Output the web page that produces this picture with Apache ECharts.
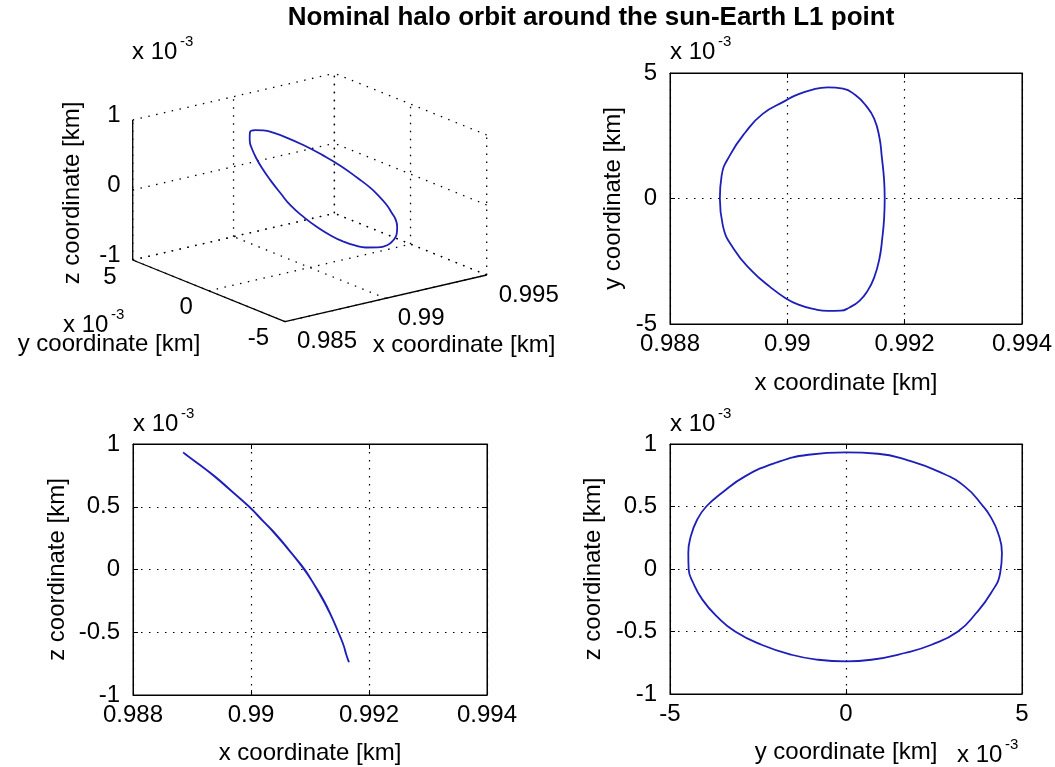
<!DOCTYPE html>
<html><head><meta charset="utf-8">
<script src="https://cdn.jsdelivr.net/npm/echarts@6/dist/echarts.min.js"></script>
<style>html,body{margin:0;padding:0;background:#fff}#c{width:1055px;height:767px}</style>
</head><body><div id="c"></div>
<script>
// ---------------- data ----------------
const chartTitle = 'Nominal halo orbit around the sun-Earth L1 point';
const axisNames = { x: 'x coordinate [km]', y: 'y coordinate [km]', z: 'z coordinate [km]' };
const multBase = 'x 10';
const multExp = '-3';
// orbit samples; y and z in units of 1e-3
const orbitX = [0.98885,0.98890,0.98909,0.98939,0.98971,0.98997,0.99019,0.99046,0.99069,0.99091,0.99106,0.99123,0.99137,0.99148,0.99157,0.99162,0.99165,0.99166,0.99165,0.99161,0.99157,0.99148,0.99134,0.99116,0.99095,0.99069,0.99040,0.99013,0.98997,0.98958,0.98928,0.98903,0.98888,0.98885];
const orbitY = [0,-1.07,-2.02,-2.87,-3.53,-3.97,-4.23,-4.41,-4.48,-4.47,-4.34,-4.08,-3.67,-3.15,-2.40,-1.55,-0.79,0,0.72,1.67,2.43,3.18,3.70,4.12,4.38,4.43,4.32,4.10,3.90,3.37,2.62,1.76,0.91,0];
const orbitZ = [0.933,0.914,0.848,0.741,0.608,0.500,0.394,0.261,0.128,0,-0.112,-0.245,-0.379,-0.500,-0.606,-0.686,-0.726,-0.739,-0.726,-0.672,-0.606,-0.500,-0.352,-0.192,-0.032,0.128,0.288,0.421,0.500,0.661,0.781,0.869,0.922,0.933];
// axis ranges / ticks
const xRange2d = [0.988, 0.994], xStep2d = 0.002;
const yRange2d = [-5, 5], yStep2d = 5;
const zRange2d = [-1, 1], zStep2d = 0.5;
const xTicks3d = [0.985, 0.99, 0.995];
const yTicks3d = [-5, 0, 5];
const zTicks3d = [-1, 0, 1];

// ---------------- styles / layout ----------------
const FONT = '"Liberation Sans", Arial, Helvetica, sans-serif';
const BLUE = '#1e1eb8';
const DOT = [1.5, 6.5];
const lbl = { fontSize: 24, fontFamily: FONT, color: '#000' };

// 3D view (orthographic projection into hidden cartesian grid)
const X3 = [xTicks3d[0], xTicks3d[xTicks3d.length - 1]];
const Y3 = [yTicks3d[0], yTicks3d[yTicks3d.length - 1]];
const Z3 = [zTicks3d[0], zTicks3d[zTicks3d.length - 1]];
const VIEW = { o: [185, 18.3], ex: [201.7, 46.7], ey: [-152.3, 61.7], ez: [0, 140] };
function project(x, y, z) {
  const xn = (x - X3[0]) / (X3[1] - X3[0]);
  const yn = (y - Y3[0]) / (Y3[1] - Y3[0]);
  const zn = (z - Z3[0]) / (Z3[1] - Z3[0]);
  return [VIEW.o[0] + xn * VIEW.ex[0] + yn * VIEW.ey[0] + zn * VIEW.ez[0],
          VIEW.o[1] + xn * VIEW.ex[1] + yn * VIEW.ey[1] + zn * VIEW.ez[1]];
}

// 3D box segments: [x1,y1,z1,x2,y2,z2,solid]
const seg3d = [];
xTicks3d.forEach(x => seg3d.push([x, Y3[0], Z3[0], x, Y3[1], Z3[0], 0]));
yTicks3d.forEach(y => seg3d.push([X3[0], y, Z3[0], X3[1], y, Z3[0], 0]));
xTicks3d.forEach(x => seg3d.push([x, Y3[1], Z3[0], x, Y3[1], Z3[1], 0]));
zTicks3d.forEach(z => seg3d.push([X3[0], Y3[1], z, X3[1], Y3[1], z, 0]));
yTicks3d.forEach(y => seg3d.push([X3[1], y, Z3[0], X3[1], y, Z3[1], 0]));
zTicks3d.forEach(z => seg3d.push([X3[1], Y3[0], z, X3[1], Y3[1], z, 0]));
seg3d.push([X3[0], Y3[1], Z3[0], X3[0], Y3[1], Z3[1], 1]);
seg3d.push([X3[0], Y3[1], Z3[0], X3[0], Y3[0], Z3[0], 1]);
seg3d.push([X3[0], Y3[0], Z3[0], X3[1], Y3[0], Z3[0], 1]);

// 3D tick labels: [axis(0=x,1=y,2=z), value]
const tick3d = [];
xTicks3d.forEach(v => tick3d.push([0, v]));
yTicks3d.forEach(v => tick3d.push([1, v]));
zTicks3d.forEach(v => tick3d.push([2, v]));
const tickLayout3d = [
  { dx: 12, dy: 20, align: 'left' },
  { dx: -16, dy: 17, align: 'right' },
  { dx: -12, dy: -5, align: 'right' }
];

// ---------------- grids ----------------
const grids = [
  { left: 670, top: 73, width: 353, height: 251 },
  { left: 133, top: 444, width: 354, height: 251 },
  { left: 670, top: 444, width: 352, height: 250 },
  { left: 100, top: 60, width: 400, height: 280 }
].map((g, i) => Object.assign({ show: i < 3, borderColor: '#000', borderWidth: 1, backgroundColor: '#fff', containLabel: false }, g));

function mainAxis(dim, gi, range, step, name, gap) {
  return {
    type: 'value', gridIndex: gi, min: range[0], max: range[1], interval: step,
    position: dim === 'x' ? 'bottom' : 'left',
    name: name, nameLocation: 'middle', nameGap: gap,
    nameTextStyle: { fontSize: 24, fontFamily: FONT, color: '#000' },
    axisLine: { show: true, onZero: false, lineStyle: { color: '#000', width: 1 } },
    axisTick: { show: true, inside: true, length: 5, lineStyle: { color: '#000' } },
    axisLabel: Object.assign({ margin: dim === 'x' ? 8 : 13 }, lbl),
    splitLine: { show: true, lineStyle: { color: '#000', width: 1.2, type: DOT } }
  };
}
function mirrorAxis(dim, gi, range, step) {
  return {
    type: 'value', gridIndex: gi, min: range[0], max: range[1], interval: step,
    position: dim === 'x' ? 'top' : 'right',
    axisLine: { show: true, onZero: false, lineStyle: { color: '#000', width: 1 } },
    axisTick: { show: true, inside: true, length: 5, lineStyle: { color: '#000' } },
    axisLabel: { show: false }, splitLine: { show: false }
  };
}

const xAxes = [
  mainAxis('x', 0, xRange2d, xStep2d, axisNames.x, 47), mirrorAxis('x', 0, xRange2d, xStep2d),
  mainAxis('x', 1, xRange2d, xStep2d, axisNames.x, 46), mirrorAxis('x', 1, xRange2d, xStep2d),
  mainAxis('x', 2, yRange2d, yStep2d, axisNames.y, 46), mirrorAxis('x', 2, yRange2d, yStep2d),
  { type: 'value', gridIndex: 3, min: 0, max: 400, show: false }
];
const yAxes = [
  mainAxis('y', 0, yRange2d, yStep2d, axisNames.y, 45), mirrorAxis('y', 0, yRange2d, yStep2d),
  mainAxis('y', 1, zRange2d, zStep2d, axisNames.z, 64), mirrorAxis('y', 1, zRange2d, zStep2d),
  mainAxis('y', 2, zRange2d, zStep2d, axisNames.z, 65), mirrorAxis('y', 2, zRange2d, zStep2d),
  { type: 'value', gridIndex: 3, min: 0, max: 280, show: false }
];

const orbitLine = { color: BLUE, width: 1.8 };
function lineSeries(xi, yi, a, b) {
  return { type: 'line', xAxisIndex: xi, yAxisIndex: yi, data: a.map((v, i) => [v, b[i]]),
    showSymbol: false, smooth: 0.5, lineStyle: orbitLine, silent: true, z: 5 };
}

const series = [
  lineSeries(0, 0, orbitX, orbitY),
  lineSeries(2, 2, orbitX, orbitZ),
  lineSeries(4, 4, orbitY, orbitZ),
  {
    type: 'custom', xAxisIndex: 6, yAxisIndex: 6, clip: false, silent: true, z: 3,
    data: seg3d,
    renderItem: function (params, api) {
      const p1 = api.coord(project(api.value(0), api.value(1), api.value(2)));
      const p2 = api.coord(project(api.value(3), api.value(4), api.value(5)));
      const solid = api.value(6) === 1;
      return { type: 'line', shape: { x1: p1[0], y1: p1[1], x2: p2[0], y2: p2[1] },
        style: { stroke: '#000', lineWidth: 1.3, lineDash: solid ? null : DOT } };
    }
  },
  {
    type: 'custom', xAxisIndex: 6, yAxisIndex: 6, clip: false, silent: true, z: 4,
    data: tick3d,
    renderItem: function (params, api) {
      const ax = api.value(0), v = api.value(1);
      const pt = ax === 0 ? project(v, Y3[0], Z3[0]) : ax === 1 ? project(X3[0], v, Z3[0]) : project(X3[0], Y3[1], v);
      const p = api.coord(pt);
      const L = tickLayout3d[ax];
      return { type: 'text', x: p[0] + L.dx, y: p[1] + L.dy,
        style: { text: String(v), fontSize: 24, fontFamily: FONT, fill: '#000', align: L.align, verticalAlign: 'middle' } };
    }
  },
  {
    type: 'line', xAxisIndex: 6, yAxisIndex: 6, z: 5, silent: true,
    data: orbitX.map((x, i) => project(x, orbitY[i], orbitZ[i])),
    showSymbol: false, smooth: 0.5, lineStyle: orbitLine
  }
];

function txt(text, x, y, size, align, rot) {
  return { type: 'text', x: x, y: y, rotation: rot || 0, silent: true,
    style: { text: text, fontSize: size, fontFamily: FONT, fill: '#000', align: align, verticalAlign: 'middle' } };
}
function mult(x, y) {
  return [txt(multBase, x, y, 24, 'left'), txt(multExp, x + 48, y - 10, 15, 'left')];
}

const graphic = [
  txt(axisNames.z, 72, 193, 24, 'center', Math.PI / 2),
  txt(axisNames.y, 109, 344, 24, 'center'),
  txt(axisNames.x, 464, 345, 24, 'center'),
  ...mult(132, 52), ...mult(670, 52), ...mult(133, 424), ...mult(670, 424),
  ...mult(957, 755), ...mult(63, 325)
];

const chart = echarts.init(document.getElementById('c'), null, { renderer: 'canvas' });
chart.setOption({
  animation: false,
  backgroundColor: '#fff',
  title: { text: chartTitle, left: 591, top: 5, textAlign: 'center', padding: 0,
    textStyle: { fontSize: 26, fontWeight: 'bold', fontFamily: FONT, color: '#000' } },
  grid: grids, xAxis: xAxes, yAxis: yAxes, series: series, graphic: graphic
});
</script></body></html>
